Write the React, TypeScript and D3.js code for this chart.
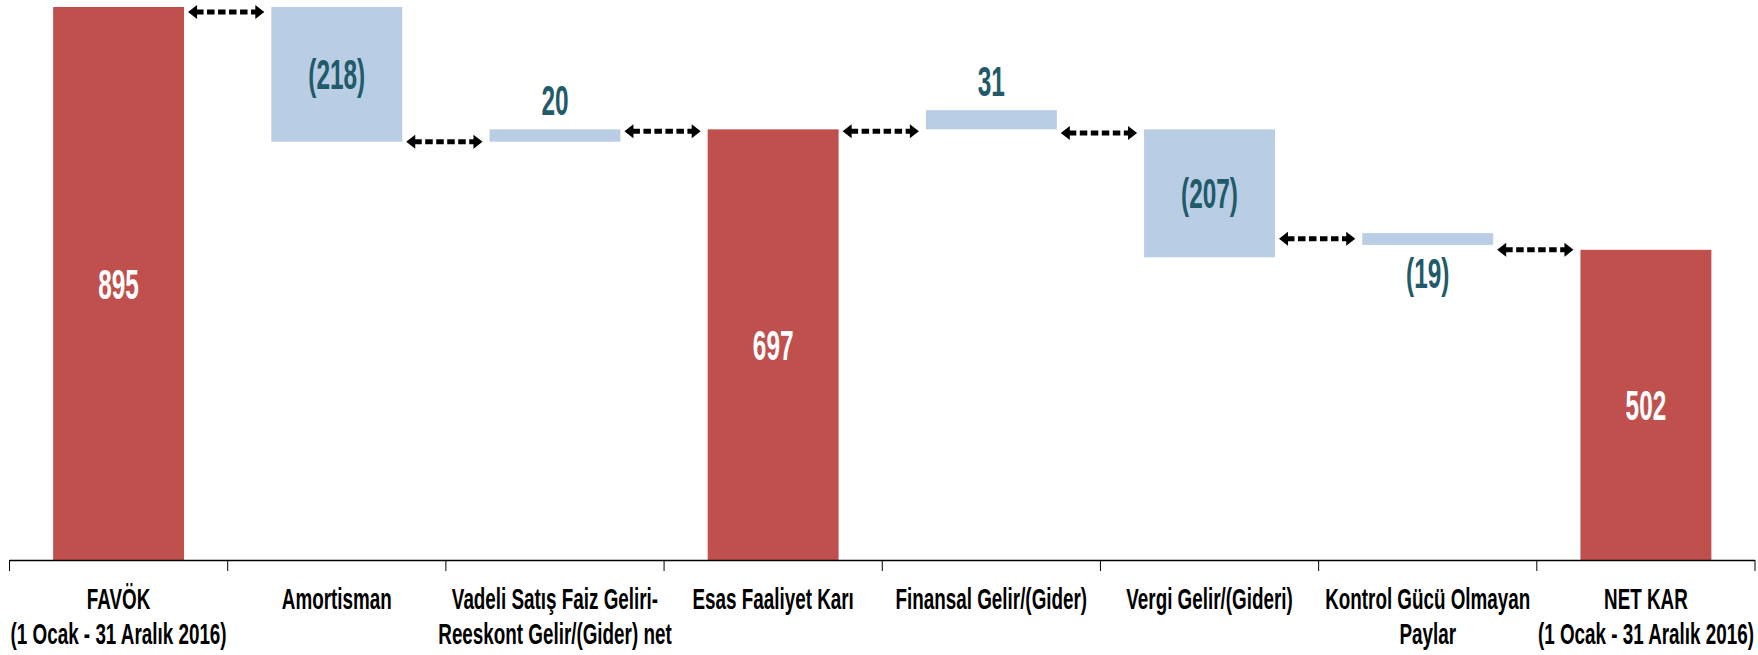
import React from "react";
import * as d3 from "d3";

// category labels (one array per line)
const categories = [
  ["FAVÖK", "(1 Ocak - 31 Aralık 2016)"],
  ["Amortisman"],
  ["Vadeli Satış Faiz Geliri-", "Reeskont Gelir/(Gider) net"],
  ["Esas Faaliyet Karı"],
  ["Finansal Gelir/(Gider)"],
  ["Vergi Gelir/(Gideri)"],
  ["Kontrol Gücü Olmayan", "Paylar"],
  ["NET KAR", "(1 Ocak - 31 Aralık 2016)"],
];
const values = [895, -218, 20, 697, 31, -207, -19, 502];
// where each floating bar starts, as drawn in the original
const bases = [0, 895, 677, 0, 697, 697, 529, 0];
const isTotal = [true, false, false, true, false, false, false, true];
// level of the dashed connector arrows between neighbouring bars
const arrowLevels = [887, 677, 694, 694, 691, 520, 502];

const W = 1758;
const H = 655;
const RED = "#c0504d";
const BLUE = "#b9cde5";
const TEAL = "#215a68";
const FONT = "'Liberation Sans', Arial, sans-serif";

export default function App() {
  const ids = categories.map((_, i) => String(i));
  const x = d3.scaleBand().domain(ids).range([9.5, 1755]).paddingInner(0.4).paddingOuter(0.2);
  const step = x.step();
  const bw = x.bandwidth();

  const ends = values.map((v, i) => bases[i] + v);
  const maxV = d3.max(ends.concat(bases)) as number;
  const y = d3.scaleLinear().domain([0, maxV]).range([560, 7]);

  const fmt = (v: number) => (v < 0 ? `(${-v})` : `${v}`);

  const ticks = ids.map((d) => (x(d) as number) - step * 0.2);
  ticks.push(ticks[ticks.length - 1] + step);

  return (
    <svg width={W} height={H} style={{ position: "absolute", left: 0, top: 0 }}>
      {/* bars */}
      {values.map((v, i) => {
        const y0 = y(Math.max(bases[i], ends[i]));
        const y1 = y(Math.min(bases[i], ends[i]));
        return (
          <rect key={"b" + i} x={x(ids[i])} y={y0} width={bw} height={y1 - y0}
            fill={isTotal[i] ? RED : BLUE} />
        );
      })}

      {/* value labels */}
      {values.map((v, i) => {
        const y0 = y(Math.max(bases[i], ends[i]));
        const y1 = y(Math.min(bases[i], ends[i]));
        const cx = (x(ids[i]) as number) + bw / 2;
        let by;
        if (y1 - y0 > 40) by = (y0 + y1) / 2 + 15;
        else if (v >= 0) by = y0 - 14;
        else by = y1 + 43;
        return (
          <text key={"v" + i} transform={`translate(${cx},${by}) scale(0.58,1)`}
            textAnchor="middle" fontFamily={FONT} fontWeight="bold" fontSize={42}
            fill={isTotal[i] ? "#fff" : TEAL}>
            {fmt(v)}
          </text>
        );
      })}

      {/* connector arrows */}
      {arrowLevels.map((lv, i) => {
        const x1 = (x(ids[i]) as number) + bw + 4;
        const x2 = (x(ids[i + 1]) as number) - 7;
        const yy = y(lv);
        return (
          <g key={"a" + i}>
            <line x1={x1 + 8} x2={x2 - 8} y1={yy} y2={yy} stroke="#000" strokeWidth={5}
              strokeDasharray="7.5,3.5" />
            <path d={`M${x1},${yy} L${x1 + 9},${yy - 7} L${x1 + 9},${yy + 7} Z`} fill="#000" />
            <path d={`M${x2},${yy} L${x2 - 9},${yy - 7} L${x2 - 9},${yy + 7} Z`} fill="#000" />
          </g>
        );
      })}

      {/* axis */}
      <line x1={ticks[0]} x2={ticks[ticks.length - 1]} y1={560.5} y2={560.5} stroke="#000" strokeWidth={1.3} />
      {ticks.map((t, i) => (
        <line key={"t" + i} x1={t} x2={t} y1={560} y2={571} stroke="#000" strokeWidth={1} />
      ))}

      {/* category labels */}
      {categories.map((lines, i) => {
        const cx = (x(ids[i]) as number) + bw / 2;
        return lines.map((ln, j) => (
          <text key={"c" + i + "_" + j} transform={`translate(${cx},${609 + j * 35}) scale(0.65,1)`}
            textAnchor="middle" fontFamily={FONT} fontWeight="bold" fontSize={29} fill="#000">
            {ln}
          </text>
        ));
      })}
    </svg>
  );
}
